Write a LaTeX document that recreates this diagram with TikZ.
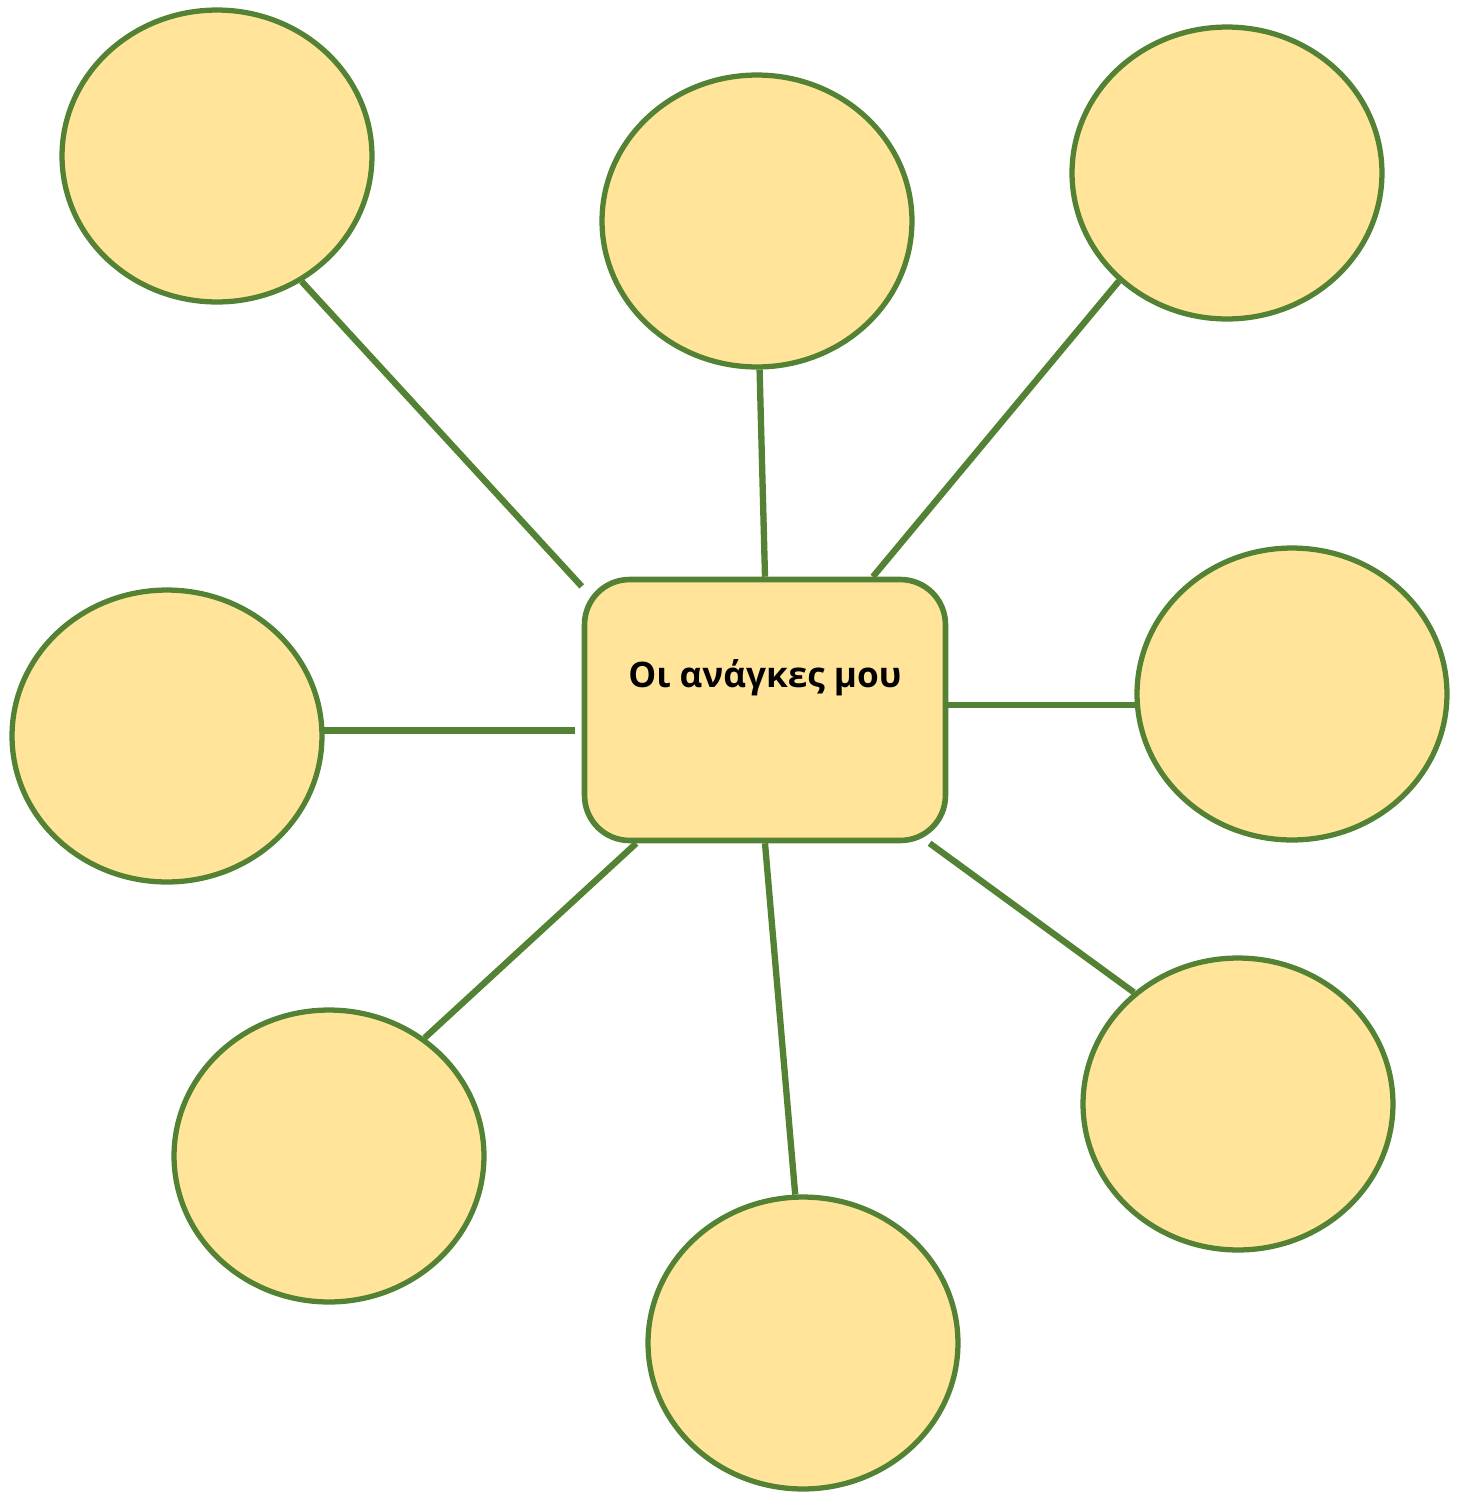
\documentclass[tikz,border=0pt]{standalone}
\usepackage{fontspec}
\setmainfont{Open Sans}
\usepackage{xcolor}
\usetikzlibrary{shapes.geometric, calc}

\definecolor{leafgreen}{HTML}{548235}
\definecolor{softgold}{HTML}{FFE499}

\begin{document}
\begin{tikzpicture}[
    x=0.02cm, y=-0.02cm,
    bubble/.style={
        ellipse,
        draw=leafgreen,
        fill=softgold,
        line width=3pt,
        minimum width=6.2cm,
        minimum height=5.84cm
    },
    hub/.style={
        rectangle,
        rounded corners=0.9cm,
        draw=leafgreen,
        fill=softgold,
        line width=3.2pt,
        minimum width=7.22cm,
        minimum height=5.22cm
    },
    link/.style={draw=leafgreen, line width=3.6pt}
]
\useasboundingbox (0,0) rectangle (1459,1492);

\node[hub] (needs) at (765,710) {};
\node[font=\bfseries\fontsize{20}{24}\selectfont] (title) at ($(needs.center)+(0,-32)$) {Οι ανάγκες μου};

\node[bubble] (b1) at (217,156) {};
\node[bubble] (b2) at (757,221) {};
\node[bubble] (b3) at (1227,173) {};
\node[bubble] (b4) at (167,736) {};
\node[bubble] (b5) at (1292,694) {};
\node[bubble] (b6) at (329,1156) {};
\node[bubble] (b7) at (803,1343) {};
\node[bubble] (b8) at (1238,1104) {};

\draw[link] (b1.-56) -- (needs.146);
\draw[link] (b2.-89) -- (needs.north);
\draw[link] (b3.-135) -- (needs.51);
\draw[link, shorten >=0.14cm] (b4.2) -- (b4.2 -| needs.west);
\draw[link] (b5.-176) -- (b5.-176 -| needs.east);
\draw[link] (b6.51) -- (needs.-134);
\draw[link] (b7.93) -- (needs.south);
\draw[link] (b8.133) -- (needs.-39);

\end{tikzpicture}
\end{document}
